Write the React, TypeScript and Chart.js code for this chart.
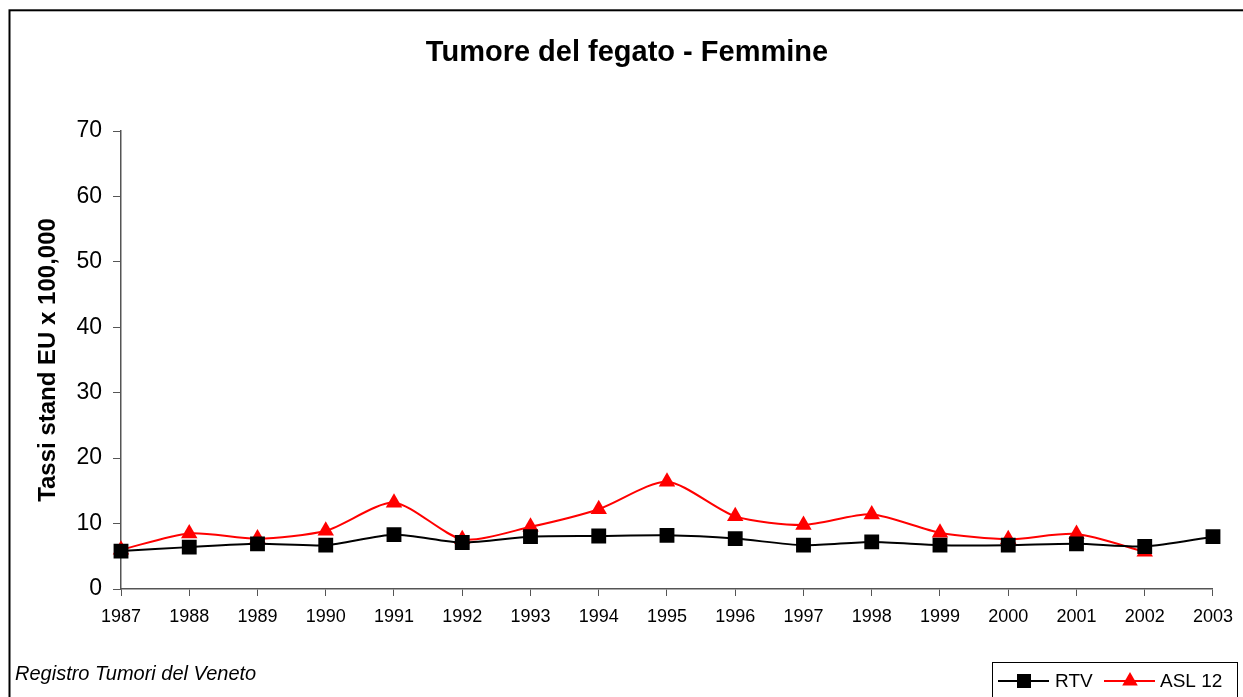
import React, { useEffect, useRef } from 'react';
import { Chart, registerables } from 'chart.js';

Chart.register(...registerables);

const years = ['1987', '1988', '1989', '1990', '1991', '1992', '1993', '1994', '1995', '1996', '1997', '1998', '1999', '2000', '2001', '2002', '2003'];
const rtvValues = [5.8, 6.4, 6.9, 6.7, 8.3, 7.1, 8.0, 8.1, 8.2, 7.7, 6.7, 7.2, 6.7, 6.7, 6.9, 6.5, 8.0];
const aslValues: (number | null)[] = [6.0, 8.5, 7.7, 8.9, 13.2, 7.6, 9.5, 12.2, 16.4, 11.1, 9.8, 11.4, 8.6, 7.6, 8.4, 5.7, null];
const seriesNames = ['RTV', 'ASL 12'];
const yMin = 0;
const yMax = 70;
const yStep = 10;
const titleText = 'Tumore del fegato - Femmine';
const yAxisTitle = 'Tassi stand EU x 100,000';
const footnote = 'Registro Tumori del Veneto';

const FONT = '"Liberation Sans", Arial, sans-serif';

const decorPlugin = {
  id: 'decor',
  afterDraw(chart: any) {
    const ctx: CanvasRenderingContext2D = chart.ctx;
    ctx.save();
    // outer frame
    ctx.strokeStyle = '#000';
    ctx.lineWidth = 2;
    ctx.strokeRect(9.5, 10.3, 1260, 720);
    // title
    ctx.fillStyle = '#000';
    ctx.font = `bold 29px ${FONT}`;
    ctx.textAlign = 'center';
    ctx.textBaseline = 'alphabetic';
    ctx.fillText(titleText, 627, 61);
    // footnote
    ctx.font = `italic 20px ${FONT}`;
    ctx.textAlign = 'left';
    ctx.fillText(footnote, 15, 680);
    // legend box
    ctx.lineWidth = 1;
    ctx.strokeStyle = '#000';
    ctx.fillStyle = '#fff';
    ctx.fillRect(992.5, 662.5, 245, 50);
    ctx.strokeRect(992.5, 662.5, 245, 50);
    const ly = 681;
    // RTV item
    ctx.strokeStyle = '#000';
    ctx.lineWidth = 2;
    ctx.beginPath();
    ctx.moveTo(998, ly);
    ctx.lineTo(1049, ly);
    ctx.stroke();
    ctx.fillStyle = '#000';
    ctx.fillRect(1024 - 7, ly - 7, 14, 14);
    ctx.font = `19px ${FONT}`;
    ctx.textBaseline = 'middle';
    ctx.fillText(seriesNames[0], 1055, ly + 1);
    // ASL item
    ctx.strokeStyle = '#ff0000';
    ctx.beginPath();
    ctx.moveTo(1104, ly);
    ctx.lineTo(1155, ly);
    ctx.stroke();
    ctx.fillStyle = '#ff0000';
    const r = 9;
    ctx.beginPath();
    ctx.moveTo(1130, ly - r);
    ctx.lineTo(1130 + r * 0.866, ly + r / 2);
    ctx.lineTo(1130 - r * 0.866, ly + r / 2);
    ctx.closePath();
    ctx.fill();
    ctx.fillStyle = '#000';
    ctx.fillText(seriesNames[1], 1160, ly + 1);
    ctx.restore();
  },
};

export default function App() {
  const canvasRef = useRef<HTMLCanvasElement>(null);

  useEffect(() => {
    if (!canvasRef.current) return;
    const chart = new Chart(canvasRef.current, {
      type: 'line',
      data: {
        labels: years,
        datasets: [
          {
            label: seriesNames[0],
            data: rtvValues,
            borderColor: '#000000',
            backgroundColor: '#000000',
            borderWidth: 2,
            pointStyle: 'rect',
            pointRadius: 10.5,
            pointBorderWidth: 0,
            pointBackgroundColor: '#000000',
            tension: 0.25,
          },
          {
            label: seriesNames[1],
            data: aslValues,
            borderColor: '#ff0000',
            backgroundColor: '#ff0000',
            borderWidth: 2,
            pointStyle: 'triangle',
            pointRadius: 9.5,
            pointBorderWidth: 0,
            pointBackgroundColor: '#ff0000',
            tension: 0.25,
            spanGaps: false,
          },
        ],
      },
      options: {
        responsive: false,
        animation: false,
        layout: { padding: { left: 0, top: 131, right: 23, bottom: 68 } },
        plugins: {
          legend: { display: false },
          tooltip: { enabled: false },
          title: { display: false },
        },
        scales: {
          x: {
            type: 'category',
            offset: false,
            grid: { drawOnChartArea: false, drawTicks: true, tickLength: 7, color: '#555' },
            border: { display: true, color: '#555', width: 1.5 },
            ticks: {
              color: '#000',
              font: { family: FONT, size: 18 },
              padding: 10,
              maxRotation: 0,
              autoSkip: false,
            },
            afterFit: (s: any) => { s.height = 40; },
          },
          y: {
            min: yMin,
            max: yMax,
            grid: { drawOnChartArea: false, drawTicks: true, tickLength: 8, color: '#555' },
            border: { display: true, color: '#555', width: 1.5 },
            ticks: {
              stepSize: yStep,
              color: '#000',
              font: { family: FONT, size: 23 },
              padding: 11,
            },
            title: {
              display: true,
              text: yAxisTitle,
              color: '#000',
              font: { family: FONT, size: 24, weight: 'bold' },
              padding: { top: 34, bottom: 0 },
            },
            afterFit: (s: any) => { s.width = 121; },
          },
        },
      },
      plugins: [decorPlugin],
    });
    return () => chart.destroy();
  }, []);

  return (
    <div style={{ position: 'absolute', left: 0, top: 0, width: 1243, height: 697, background: '#fff' }}>
      <canvas ref={canvasRef} width={1243} height={697} style={{ display: 'block' }} />
    </div>
  );
}
